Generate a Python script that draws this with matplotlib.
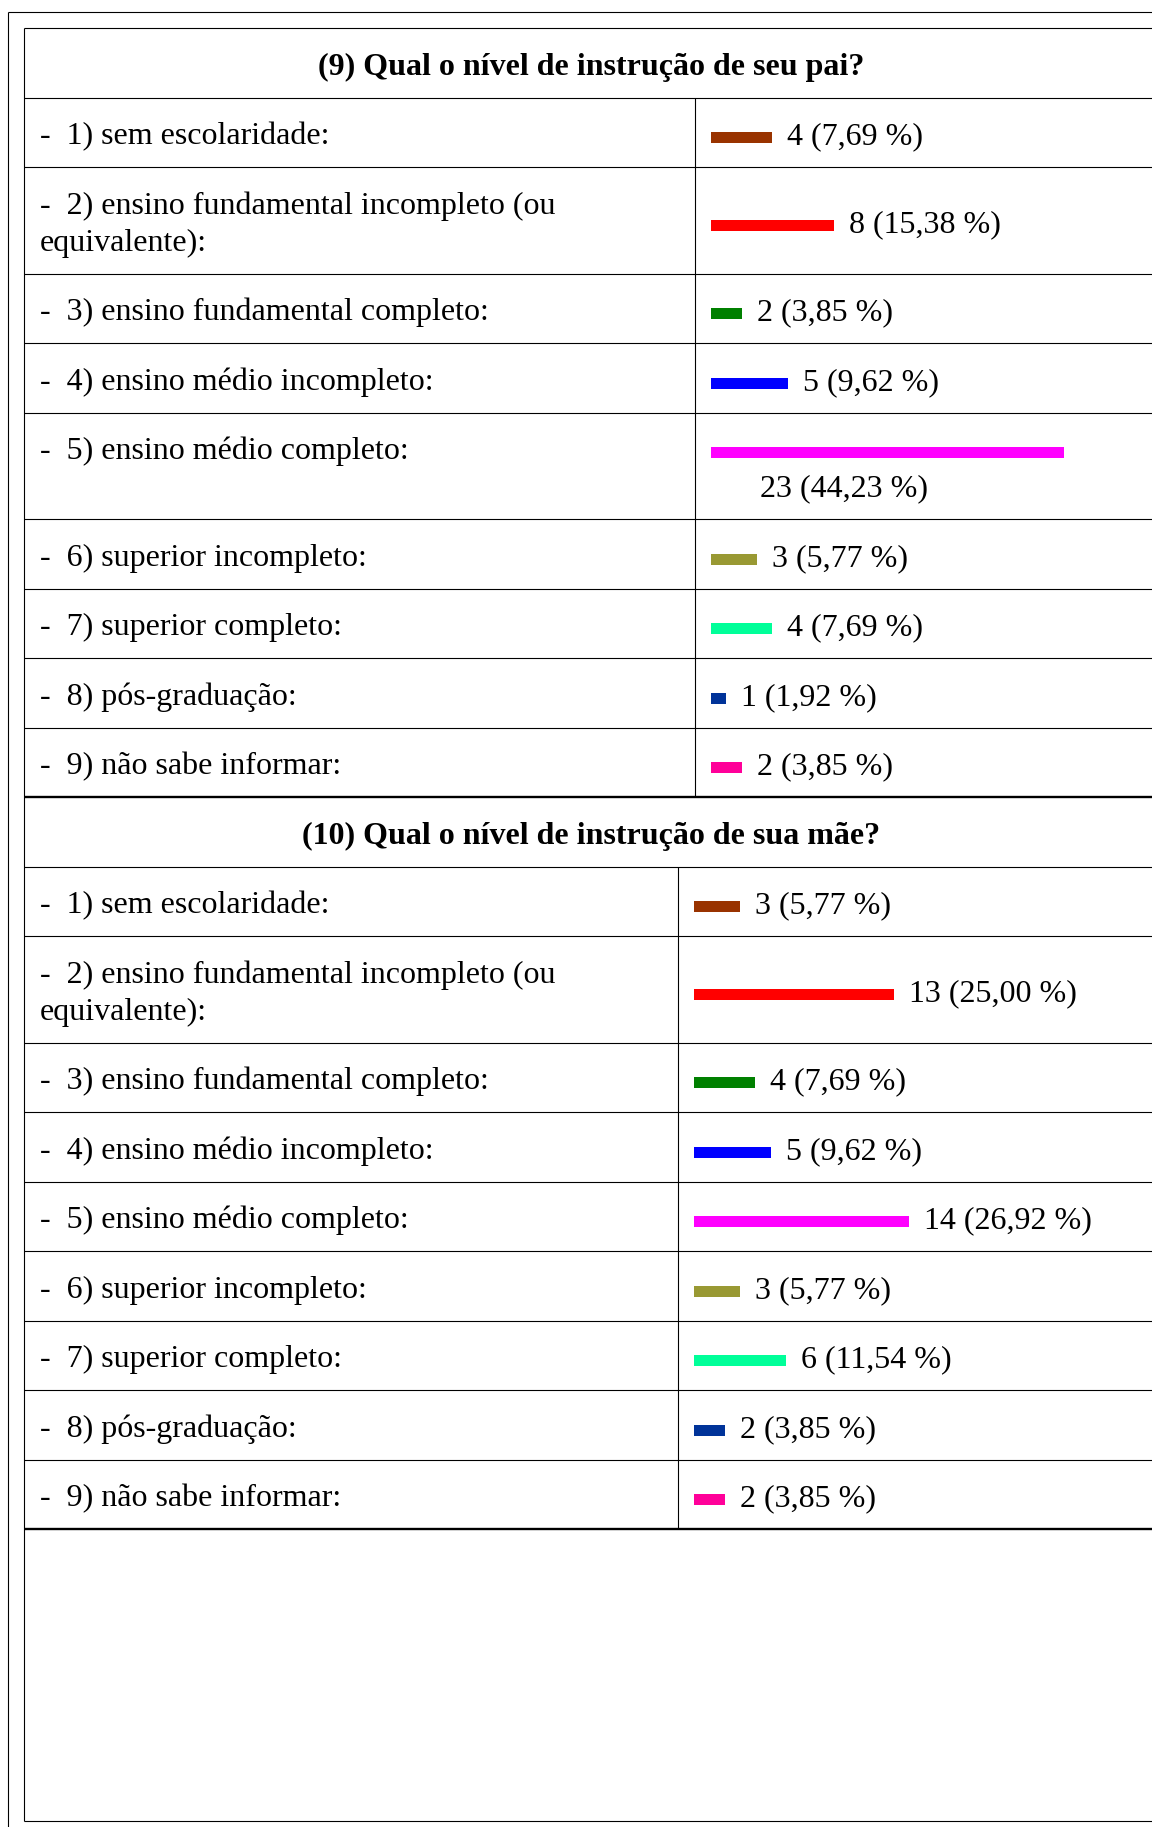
import matplotlib
matplotlib.use("Agg")
import matplotlib.pyplot as plt

W, H = 1152, 1827

categories = [
    "-  1) sem escolaridade:",
    "-  2) ensino fundamental incompleto (ou\nequivalente):",
    "-  3) ensino fundamental completo:",
    "-  4) ensino médio incompleto:",
    "-  5) ensino médio completo:",
    "-  6) superior incompleto:",
    "-  7) superior completo:",
    "-  8) pós-graduação:",
    "-  9) não sabe informar:",
]
bar_colors = ["#993300", "#ff0000", "#008000", "#0000ff", "#ff00ff",
              "#999933", "#00ff99", "#003399", "#ff0099"]

pai_title = "(9) Qual o nível de instrução de seu pai?"
pai_counts = [4, 8, 2, 5, 23, 3, 4, 1, 2]
pai_pcts = [7.69, 15.38, 3.85, 9.62, 44.23, 5.77, 7.69, 1.92, 3.85]

mae_title = "(10) Qual o nível de instrução de sua mãe?"
mae_counts = [3, 13, 4, 5, 14, 3, 6, 2, 2]
mae_pcts = [5.77, 25.00, 7.69, 9.62, 26.92, 5.77, 11.54, 3.85, 3.85]

plt.rcParams['font.family'] = ['Liberation Serif', 'DejaVu Serif']
FS = 23.0
ROW = 69.5        # single line row height (px)
LINE = 37         # extra px per extra text line
BASE = 12.0       # baseline below line centre
PX_UNIT = 15.35   # bar px per respondent
PT = 72 / 100     # px -> points

fig = plt.figure(figsize=(W / 100, H / 100), dpi=100)
ax = fig.add_axes([0, 0, 1, 1])
ax.set_xlim(0, W)
ax.set_ylim(H, 0)
ax.axis('off')

thin = 0.8
thick = 1.7


def hline(y, lw=thin, x0=24):
    ax.plot([x0, W], [y, y], color='black', lw=lw, solid_capstyle='butt')


def vline(x, y0, y1, lw=thin):
    ax.plot([x, x], [y0, y1], color='black', lw=lw, solid_capstyle='butt')


# outer frame + table border
hline(12, x0=8)
vline(8, 12, H)
hline(28)
vline(24, 28, 1821)
hline(1821)


def draw_section(top, title, counts, pcts, col_x):
    bar_x = col_x + 16
    ax.text(591, top + ROW / 2 + BASE, title, ha='center', va='baseline',
            fontsize=FS, fontweight='bold')
    y = top + ROW
    hline(y)
    bax = fig.add_axes([bar_x / W, 0, (W - bar_x) / W, 1])
    bax.set_xlim(0, (W - bar_x) / PX_UNIT)
    bax.set_ylim(H, 0)
    bax.axis('off')
    col_top = y
    for i, (cat, n, p, c) in enumerate(zip(categories, counts, pcts, bar_colors)):
        lines = cat.split("\n")
        wrap = n * PX_UNIT > 300
        rl = 2 if wrap else 1
        nl = max(len(lines), rl)
        h = ROW + LINE * (nl - 1)
        mid = y + h / 2
        # left cell: top aligned
        first = mid - LINE * (nl - 1) / 2 + BASE
        for k, ln in enumerate(lines):
            ax.text(39.5, first + k * LINE, ln, ha='left', va='baseline', fontsize=FS)
        # right cell: middle aligned
        rfirst = mid - LINE * (rl - 1) / 2 + BASE
        bax.barh(rfirst - 6.5, n, height=10.7, left=0, color=c)
        label = f"{n} ({p:.2f} %)".replace('.', ',')
        if wrap:
            bax.annotate(label, xy=(0, rfirst + LINE), xytext=(49 * PT, 0),
                         textcoords='offset points', va='baseline', fontsize=FS)
        else:
            bax.annotate(label, xy=(n, rfirst), xytext=(15 * PT, 0),
                         textcoords='offset points', va='baseline', fontsize=FS)
        y += h
        hline(y, lw=thick if i == len(categories) - 1 else thin)
    vline(col_x, col_top, y)
    return y


end1 = draw_section(28, pai_title, pai_counts, pai_pcts, 695)
draw_section(end1, mae_title, mae_counts, mae_pcts, 678)

fig.savefig("out.png", dpi=100)
